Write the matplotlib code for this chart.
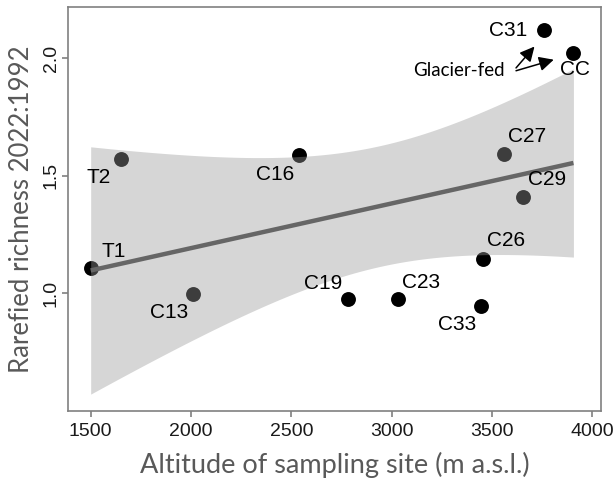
import numpy as np
import matplotlib
matplotlib.use('Agg')
import matplotlib.pyplot as plt

# ---- data ----
sites = ['T1', 'T2', 'C13', 'C16', 'C19', 'C23', 'C33', 'C26', 'C27', 'C29', 'C31', 'CC']
altitude = [1500, 1650, 2011, 2540, 2784, 3033, 3444, 3457, 3559, 3654, 3760, 3906]
richness = [1.109, 1.571, 0.997, 1.588, 0.974, 0.974, 0.946, 1.147, 1.593, 1.411, 2.120, 2.024]
x_ticks = [1500, 2000, 2500, 3000, 3500, 4000]
y_ticks = [1.0, 1.5, 2.0]

# label offsets in pixels (right, down)
label_offsets = {
    'T1': (23, -16), 'T2': (-22, 18), 'C13': (-24, 19), 'C16': (-24, 19),
    'C19': (-25, -16), 'C23': (23, -17), 'C33': (-24, 19), 'C26': (23, -18),
    'C27': (23, -17), 'C29': (24, -17), 'C31': (-36, 0), 'CC': (2, 17),
}

x = np.array(altitude, dtype=float)
y = np.array(richness, dtype=float)

# linear model with 95% confidence band (like geom_smooth(method='lm'))
n = len(x)
slope, intercept = np.polyfit(x, y, 1)
xs = np.linspace(x.min(), x.max(), 200)
fit = intercept + slope * xs
resid = y - (intercept + slope * x)
s = np.sqrt(np.sum(resid ** 2) / (n - 2))
sxx = np.sum((x - x.mean()) ** 2)
t_crit = 2.228  # t(0.975, df=10)
se = s * np.sqrt(1.0 / n + (xs - x.mean()) ** 2 / sxx)
lo, hi = fit - t_crit * se, fit + t_crit * se

fig = plt.figure(figsize=(6.16, 4.82), dpi=100)
ax = fig.add_axes([68 / 616, 1 - 411 / 482, (600.7 - 68) / 616, (411 - 7.3) / 482])

ax.scatter(x, y, s=115, color='black', zorder=2, linewidths=0)
ax.fill_between(xs, lo, hi, color='#999999', alpha=0.4, linewidth=0, zorder=3)
ax.plot(xs, fit, color='#666666', lw=3.2, zorder=4, solid_capstyle='butt')

for name, xi, yi in zip(sites, x, y):
    dx, dy = label_offsets[name]
    ax.annotate(name, (xi, yi), xytext=(dx, -dy), textcoords='offset pixels',
                ha='center', va='center', fontsize=15, family='Liberation Sans',
                color='black', zorder=6)

# glacier-fed annotation
ax.text(3336, 1.946, 'Glacier-fed', fontsize=13.5, family='Lato', ha='center',
        va='center', color='black', zorder=6)
ax.annotate('', xy=(3712, 2.050), xytext=(3620, 1.959),
            arrowprops=dict(arrowstyle='-|>', color='black', lw=1.1,
                            mutation_scale=22, shrinkA=0, shrinkB=0), zorder=6)
ax.annotate('', xy=(3808, 1.994), xytext=(3620, 1.947),
            arrowprops=dict(arrowstyle='-|>', color='black', lw=1.1,
                            mutation_scale=22, shrinkA=0, shrinkB=0), zorder=6)

ax.set_xlim(1387, 4042)
ax.set_ylim(0.499, 2.217)
ax.set_xticks(x_ticks)
ax.set_yticks(y_ticks)
ax.set_xticklabels([str(v) for v in x_ticks], family='Liberation Sans')
ax.set_yticklabels(['%.1f' % v for v in y_ticks], family='Liberation Sans',
                   rotation=90, va='center')
ax.tick_params(axis='both', length=4, width=1.2, color='#808080',
               labelsize=14, labelcolor='#1a1a1a')
ax.tick_params(axis='x', pad=5)
ax.tick_params(axis='y', pad=2)
for sp in ax.spines.values():
    sp.set_color('#808080')
    sp.set_linewidth(1.2)

ax.set_xlabel('Altitude of sampling site (m a.s.l.)', fontsize=19.5, family='Lato',
              color='#595959')
ax.xaxis.set_label_coords(0.5, (411 - 465) / (411 - 7.3))
ax.xaxis.label.set_verticalalignment('center')
ax.set_ylabel('Rarefied richness 2022:1992', fontsize=18.5, family='Lato',
              color='#595959')
ax.yaxis.set_label_coords((22 - 68) / (600.7 - 68), 0.5)
ax.yaxis.label.set_verticalalignment('center')

fig.savefig('out.png', dpi=100)
